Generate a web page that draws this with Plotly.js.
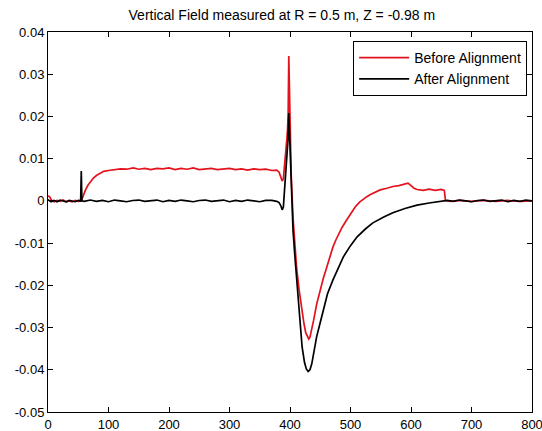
<!DOCTYPE html>
<html>
<head>
<meta charset="utf-8">
<script src="https://cdn.plot.ly/plotly-3.0.1.min.js"></script>
<style>html,body{margin:0;padding:0;background:#fff}#chart{width:542px;height:431px}</style>
</head>
<body>
<div id="chart"></div>
<script>
// Before Alignment (red)
var xBefore = [0,3,6,10,15,20,25,30,35,40,45,50,55,58,62,66,70,75,80,86,92,100,108,120,130,141,150,160,170,180,190,200,210,220,230,240,250,260,270,280,290,300,310,320,330,340,350,360,370,378,382,385,387,389,391,393,395,396,397,398,399,400,402,405,408,411,415,420,423,426,429,431,433,436,439,444,450,455,461,466,471,476,481,486,492,500,508,515,521,527,533,540,549,560,570,580,590,595,600,605,610,620,630,640,650,655,657,665,680,700,720,740,760,780,800];
var yBefore = [0.0012,0.0009,0.0001,-0.0002,0.0001,-0.0001,0.0002,-0.0002,0,-0.0002,0.0001,-0.0001,0,0.0012,0.0026,0.0037,0.0045,0.0054,0.006,0.0066,0.007,0.0072,0.0074,0.0076,0.0075,0.0078,0.0075,0.0077,0.0074,0.0077,0.0076,0.0078,0.0074,0.0077,0.0075,0.0078,0.0074,0.0076,0.0077,0.0074,0.0076,0.0077,0.0074,0.0076,0.0073,0.0076,0.0074,0.0075,0.0072,0.0073,0.0068,0.0055,0.0047,0.0052,0.008,0.0115,0.015,0.017,0.021,0.0343,0.025,0.015,0.006,-0.004,-0.011,-0.016,-0.021,-0.0265,-0.029,-0.0312,-0.0324,-0.0327,-0.0323,-0.0305,-0.0283,-0.0245,-0.0211,-0.0184,-0.0156,-0.0131,-0.0109,-0.0092,-0.0077,-0.0063,-0.0049,-0.003,-0.0014,-0.0003,0.0004,0.001,0.0015,0.002,0.0026,0.003,0.0034,0.0036,0.0041,0.0042,0.0036,0.003,0.0027,0.0025,0.0028,0.0025,0.0027,0.0025,0.0001,-0.0001,0.0001,-0.0001,0.0001,-0.0001,0.0001,-0.0001,0];

// After Alignment (black)
var xAfter = [0,5,10,15,20,25,30,35,40,45,50,54,55,56,60,70,80,90,100,110,120,130,140,150,160,170,180,190,200,210,220,230,240,250,260,270,280,290,300,310,320,330,340,350,360,370,378,382,385,387,389,391,393,395,396,397,398,399,400,402,405,408,411,415,420,424,427,430,433,436,440,444,450,455,462,471,480,488,500,511,525,537,555,570,590,610,630,650,660,670,680,690,700,710,720,730,740,750,760,770,780,790,800];
var yAfter = [0.0003,-0.0002,0.0001,-0.0002,0.0002,0,-0.0002,0.0001,-0.0001,-0.0002,0.0001,0,0.0071,0,-0.0001,0.0002,-0.0001,0.0001,-0.0002,0.0002,0,-0.0002,0.0001,0.0002,-0.0001,0,0.0002,-0.0002,0.0001,-0.0001,0.0002,0,-0.0002,0.0001,0.0002,-0.0001,0,0.0002,-0.0002,0.0001,-0.0001,0.0002,0,-0.0002,0.0001,0.0001,-0.0001,-0.0004,-0.0012,-0.0021,-0.0015,0.002,0.007,0.011,0.013,0.015,0.0208,0.016,0.011,0.002,-0.007,-0.013,-0.0187,-0.027,-0.0346,-0.0383,-0.0398,-0.0404,-0.0400,-0.0386,-0.0355,-0.0322,-0.0288,-0.0258,-0.022,-0.0187,-0.0158,-0.0133,-0.0106,-0.0085,-0.0066,-0.0052,-0.0038,-0.0028,-0.0018,-0.001,-0.0005,-0.0002,0.0001,-0.0001,0.0002,0,-0.0002,0.0001,0.0002,-0.0001,0,0.0002,-0.0002,0.0001,-0.0001,0.0002,0,-0.0001,0.0001];

var xTicks = [0,100,200,300,400,500,600,700,800];
var xTickText = ['0','100','200','300','400','500','600','700','800'];
var yTicks = [-0.05,-0.04,-0.03,-0.02,-0.01,0,0.01,0.02,0.03,0.04];
var yTickText = ['-0.05','-0.04','-0.03','-0.02','-0.01','0','0.01','0.02','0.03','0.04'];

var traces = [
  {x: xBefore, y: yBefore, type: 'scatter', mode: 'lines', name: 'Before Alignment',
   line: {color: '#e3121c', width: 1.7}},
  {x: xAfter, y: yAfter, type: 'scatter', mode: 'lines', name: 'After Alignment',
   line: {color: '#000000', width: 1.7}}
];

var axisCommon = {
  showgrid: false, zeroline: false, showline: true, linecolor: '#000', linewidth: 1,
  mirror: 'ticks', ticks: 'inside', ticklen: 5, tickcolor: '#000', tickwidth: 1,
  tickfont: {family: 'Liberation Sans, Arial, sans-serif', size: 13, color: '#000'},
  automargin: false, tickmode: 'array', ticklabeloverflow: 'allow'
};

var layout = {
  width: 542, height: 431,
  margin: {l: 48, r: 10, t: 32, b: 19, pad: 0},
  paper_bgcolor: '#fff', plot_bgcolor: '#fff',
  font: {family: 'Liberation Sans, Arial, sans-serif', color: '#000'},
  title: {text: 'Vertical Field measured at R = 0.5 m, Z = -0.98 m',
          font: {size: 14, color: '#000'}, x: 0.52, xanchor: 'center', y: 0.965, yanchor: 'middle'},
  xaxis: Object.assign({}, axisCommon, {range: [0, 800], tickvals: xTicks, ticktext: xTickText}),
  yaxis: Object.assign({}, axisCommon, {range: [-0.05, 0.04], tickvals: yTicks, ticktext: yTickText}),
  showlegend: true,
  legend: {x: 0.99, xanchor: 'right', y: 0.976, yanchor: 'top', bgcolor: '#fff',
           bordercolor: '#000', borderwidth: 1, font: {size: 14, color: '#000'},
           tracegroupgap: 0, itemwidth: 50}
};

Plotly.newPlot('chart', traces, layout, {staticPlot: true, displayModeBar: false});
</script>
</body>
</html>
